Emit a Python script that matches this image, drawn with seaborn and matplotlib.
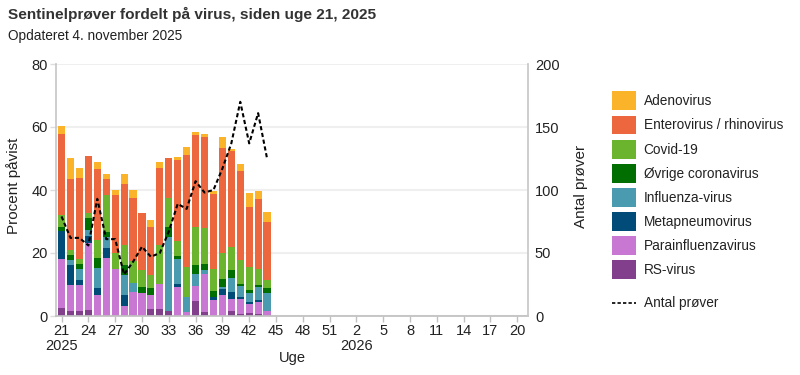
import matplotlib
matplotlib.use("Agg")
import matplotlib.pyplot as plt
from matplotlib.patches import Patch
from matplotlib.lines import Line2D
import seaborn as sns
import pandas as pd

# ---- data (weeks 21-44, 2025) ----
weeks = list(range(21, 45))
adenovirus = [2.6, 6.7, 3.2, 0, 2.2, 1.6, 1.6, 3.2, 2.5, 0, 2.2, 1.9, 0, 1.0, 2.6, 0.9, 1.0, 1.0, 3.5, 0.6, 2.3, 4.4, 2.6, 3.2]
enterovirus = [25.7, 22.4, 25.6, 18.2, 22.5, 5.1, 18.4, 19.4, 20.0, 18.0, 15.3, 24.6, 12.7, 25.7, 35.5, 29.2, 28.8, 23.8, 33.3, 30.5, 28.2, 19.0, 22.2, 18.4]
covid = [3.7, 1.7, 1.7, 1.5, 5.8, 11.7, 5.0, 6.3, 7.1, 5.5, 4.1, 12.2, 9.2, 4.9, 9.6, 12.1, 11.5, 7.0, 8.3, 7.3, 7.6, 7.3, 5.1, 2.5]
ovrige_corona = [1.4, 1.6, 1.6, 3.8, 3.2, 1.7, 0, 3.2, 0, 1.9, 2.2, 0, 3.2, 0.9, 0, 2.9, 1.9, 1.9, 2.6, 2.5, 0.7, 1.0, 0.6, 1.6]
influenza = [0, 1.6, 3.4, 2.0, 6.3, 3.3, 0, 6.3, 2.7, 0, 0, 0, 23.5, 7.9, 4.7, 3.8, 1.3, 0, 0.6, 4.5, 3.5, 2.9, 4.1, 5.7]
metapneumo = [8.9, 6.4, 1.6, 2.2, 2.2, 3.3, 0, 3.5, 0, 0, 0, 0, 0, 1.0, 0, 0, 0, 0.9, 1.9, 2.2, 0.6, 0.6, 0.7, 0]
parainfluenza = [15.5, 8.1, 8.1, 21.2, 6.7, 18.4, 14.9, 3.2, 7.7, 7.3, 4.5, 8.0, 0, 9.2, 1.3, 4.7, 12.0, 5.1, 6.7, 3.8, 4.8, 3.0, 3.8, 1.6]
rs_virus = [2.6, 1.7, 1.7, 1.9, 0, 0, 0, 0, 0, 0, 2.2, 2.2, 1.6, 0, 0, 4.8, 1.3, 0, 0, 1.6, 0.6, 0.8, 0.6, 0]
antal_prover = [79, 62, 62, 56, 93, 61, 61, 33, 43, 55, 47, 50, 67, 89, 85, 107, 98, 100, 117, 137, 170, 137, 161, 125]

virus_names = ["Adenovirus", "Enterovirus / rhinovirus", "Covid-19", "Øvrige coronavirus",
               "Influenza-virus", "Metapneumovirus", "Parainfluenzavirus", "RS-virus"]
colors = ["#FBB42A", "#EC673D", "#6AB42E", "#006E00", "#4A9BB0", "#004B78", "#C878D3", "#82408C"]

# all week slots on the axis: week 21 2025 .. week 20 2026
all_weeks = list(range(21, 53)) + list(range(1, 21))
tick_weeks = [21, 24, 27, 30, 33, 36, 39, 42, 45, 48, 51, 2, 5, 8, 11, 14, 17, 20]

series = [adenovirus, enterovirus, covid, ovrige_corona, influenza, metapneumo, parainfluenza, rs_virus]
rows = []
for name, vals in zip(virus_names, series):
    for w, v in zip(weeks, vals):
        rows.append({"slot": all_weeks.index(w), "virus": name, "value": v})
df = pd.DataFrame(rows)
slots = [all_weeks.index(w) for w in weeks]

sns.set_theme(style="white")
plt.rcParams["font.family"] = ["Liberation Sans", "DejaVu Sans"]

fig = plt.figure(figsize=(8, 3.75), dpi=100)
ax = fig.add_axes([56 / 800, 1 - 316 / 375, (528 - 56) / 800, (316 - 64) / 375])

sns.histplot(data=df, x="slot", weights="value", hue="virus", hue_order=virus_names,
             multiple="stack", discrete=True, shrink=0.8, palette=colors, alpha=1,
             linewidth=0, legend=False, ax=ax)

ax2 = ax.twinx()
sns.lineplot(x=slots, y=antal_prover, ax=ax2, color="black", linewidth=1.5,
             linestyle=(0, (2, 1.3)))

ax.set_xlim(-0.62, 52.2)
ax.set_ylim(0, 80)
ax2.set_ylim(0, 200)
ax.set_yticks([0, 20, 40, 60, 80])
ax2.set_yticks([0, 50, 100, 150, 200])

tick_pos = [all_weeks.index(w) for w in tick_weeks]
tick_lab = []
for w in tick_weeks:
    if w == 21:
        tick_lab.append("21\n2025")
    elif w == 2:
        tick_lab.append("2\n2026")
    else:
        tick_lab.append(str(w))
ax.set_xticks(tick_pos)
ax.set_xticklabels(tick_lab, linespacing=1.05)

ax.set_xlabel("")
ax.set_ylabel("")
ax2.set_ylabel("")

ax.yaxis.grid(True, color="#efefef", linewidth=1.5)
ax.set_axisbelow(True)

for a in (ax, ax2):
    a.spines["top"].set_visible(False)
ax.spines["left"].set_color("#c8c8c8")
ax.spines["bottom"].set_color("#c0c0c0")
ax.spines["right"].set_visible(False)
ax2.spines["left"].set_visible(False)
ax2.spines["bottom"].set_visible(False)
ax2.spines["right"].set_color("#c8c8c8")

txt = "#222222"
fs = 10.5
ax.tick_params(axis="x", length=4, width=1, color="#c0c0c0", labelsize=fs, pad=2, labelcolor=txt, bottom=True)
ax.tick_params(axis="y", length=4, width=1, color="#dddddd", labelsize=fs, pad=2, labelcolor=txt, left=True)
ax2.tick_params(axis="y", length=0, labelsize=fs, pad=5, labelcolor=txt)

fig.text(8 / 800, 1 - 14 / 375, "Sentinelprøver fordelt på virus, siden uge 21, 2025",
         fontsize=11.1, fontweight="bold", color="#333333", va="center", ha="left")
fig.text(8 / 800, 1 - 36 / 375, "Opdateret 4. november 2025",
         fontsize=9.8, color="#222222", va="center", ha="left")
fig.text(14 / 800, 1 - 186 / 375, "Procent påvist", rotation=90, fontsize=11,
         color=txt, va="center", ha="center")
fig.text(581 / 800, 1 - 186 / 375, "Antal prøver", rotation=90, fontsize=11,
         color=txt, va="center", ha="center")
fig.text(292 / 800, 1 - 358 / 375, "Uge", fontsize=fs, color=txt, va="center", ha="center")

lfs = 9.8
handles = [Patch(facecolor=c, edgecolor="none") for c in colors]
leg1 = fig.legend(handles, virus_names, loc="upper left", bbox_to_anchor=(607 / 800, 1 - 86 / 375),
                  frameon=False, fontsize=lfs, handlelength=1.75, handleheight=1.75,
                  labelspacing=0.39, handletextpad=0.55, borderaxespad=0, labelcolor=txt)
line_handle = Line2D([0], [0], color="black", linewidth=1.2, linestyle=(0, (2, 1.3)))
leg2 = fig.legend([line_handle], ["Antal prøver"], loc="upper left",
                  bbox_to_anchor=(607 / 800, 1 - 291 / 375), frameon=False, fontsize=lfs,
                  handlelength=1.75, handletextpad=0.55, borderaxespad=0, labelcolor=txt)

fig.savefig("out.png", dpi=100)
